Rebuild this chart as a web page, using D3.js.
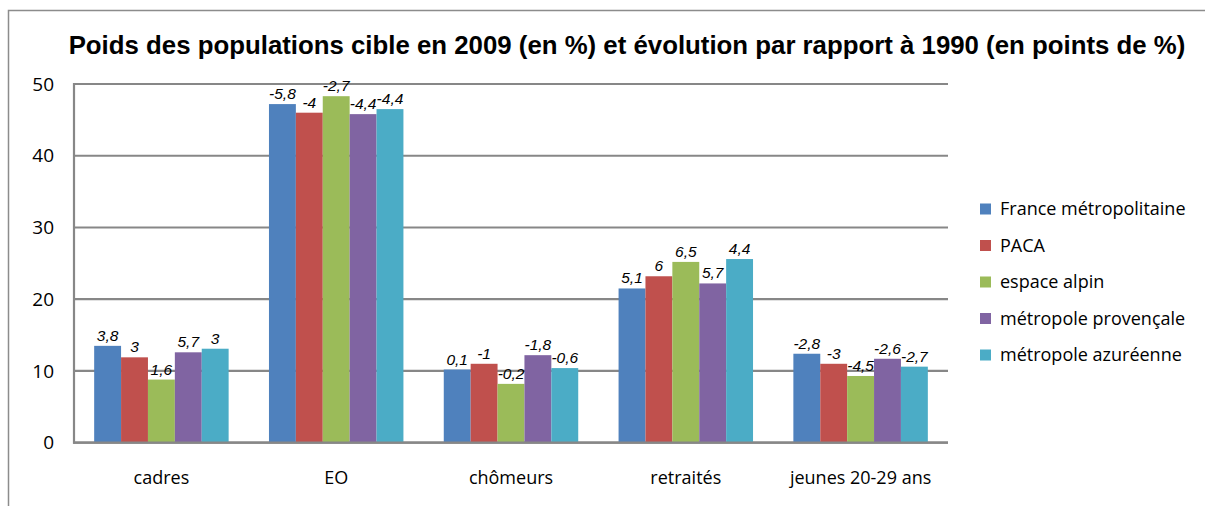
<!DOCTYPE html>
<html>
<head>
<meta charset="utf-8">
<script src="https://cdn.jsdelivr.net/npm/d3@7"></script>
<style>
  body { margin: 0; background: #fff; }
  svg { display: block; }
</style>
</head>
<body>
<div id="chart"></div>
<script>
// --- data ---
const categories = ['cadres', 'EO', 'chômeurs', 'retraités', 'jeunes 20-29 ans'];
const seriesNames = ['France métropolitaine', 'PACA', 'espace alpin', 'métropole provençale', 'métropole azuréenne'];
const seriesColors = ['#4F81BD', '#C0504D', '#9BBB59', '#8064A2', '#4BACC6'];

// share in 2009 (%), one array per series, in category order
const franceValues   = [13.5, 47.2, 10.2, 21.5, 12.4];
const pacaValues     = [11.9, 46.0, 11.0, 23.2, 11.0];
const alpinValues    = [8.8, 48.3, 8.2, 25.2, 9.3];
const provValues     = [12.6, 45.8, 12.2, 22.2, 11.7];
const azurValues     = [13.1, 46.5, 10.4, 25.6, 10.6];

// evolution vs 1990 (points), shown as labels
const franceEvol = ['3,8', '-5,8', '0,1', '5,1', '-2,8'];
const pacaEvol   = ['3', '-4', '-1', '6', '-3'];
const alpinEvol  = ['1,6', '-2,7', '-0,2', '6,5', '-4,5'];
const provEvol   = ['5,7', '-4,4', '-1,8', '5,7', '-2,6'];
const azurEvol   = ['3', '-4,4', '-0,6', '4,4', '-2,7'];

const yTicks = [0, 10, 20, 30, 40, 50];

const values = [franceValues, pacaValues, alpinValues, provValues, azurValues];
const evols = [franceEvol, pacaEvol, alpinEvol, provEvol, azurEvol];

const W = 1205, H = 506;
const plot = { left: 74, right: 948, top: 84, bottom: 442.7 };

const svg = d3.select('#chart').append('svg')
  .attr('width', W).attr('height', H);

// outer frame (only top and left edges are visible in the picture)
svg.append('path')
  .attr('d', `M8.5,${H} L8.5,10.5 L${W},10.5`)
  .attr('fill', 'none')
  .attr('stroke', '#8c8c8c')
  .attr('stroke-width', 1.5);

// title
svg.append('text')
  .attr('x', 627).attr('y', 54)
  .attr('text-anchor', 'middle')
  .attr('font-family', 'Liberation Sans, Arial, sans-serif')
  .attr('font-weight', 'bold')
  .attr('font-size', 25.8)
  .attr('fill', '#000')
  .text('Poids des populations cible en 2009 (en %) et évolution par rapport à 1990 (en points de %)');

const y = d3.scaleLinear().domain([0, 50]).range([plot.bottom, plot.top]);

const x0 = d3.scaleBand()
  .domain(categories)
  .range([plot.left, plot.right])
  .paddingInner(0)
  .paddingOuter(0);

// group occupies 5 bars out of 6.5 bar widths (gap width 150%)
const barW = x0.bandwidth() / 6.5;
const x1 = d3.scaleBand()
  .domain(seriesNames)
  .range([0, barW * 5]);

// gridlines
svg.append('g')
  .selectAll('line')
  .data(yTicks)
  .join('line')
  .attr('x1', plot.left).attr('x2', plot.right)
  .attr('y1', d => y(d)).attr('y2', d => y(d))
  .attr('stroke', '#878787')
  .attr('stroke-width', 2.2);

// y axis line
svg.append('line')
  .attr('x1', plot.left).attr('x2', plot.left)
  .attr('y1', y(50) - 1).attr('y2', y(0) + 1)
  .attr('stroke', '#878787')
  .attr('stroke-width', 2.2);

// y tick labels
svg.append('g')
  .selectAll('text')
  .data(yTicks)
  .join('text')
  .attr('x', 54)
  .attr('y', d => y(d))
  .attr('dy', '0.35em')
  .attr('text-anchor', 'end')
  .attr('font-family', 'Open Sans, Noto Sans, sans-serif')
  .attr('font-size', 19)
  .attr('fill', '#000')
  .text(d => d);

// bars
const groups = svg.append('g')
  .selectAll('g')
  .data(categories)
  .join('g')
  .attr('transform', c => `translate(${x0(c) + barW * 0.75},0)`);

groups.each(function(c, ci) {
  const g = d3.select(this);
  seriesNames.forEach((s, si) => {
    const v = values[si][ci];
    g.append('rect')
      .attr('x', x1(s))
      .attr('y', y(v))
      .attr('width', x1.bandwidth())
      .attr('height', y(0) - y(v))
      .attr('fill', seriesColors[si]);
  });
  seriesNames.forEach((s, si) => {
    const v = values[si][ci];
    g.append('text')
      .attr('x', x1(s) + x1.bandwidth() / 2)
      .attr('y', y(v) - 5)
      .attr('text-anchor', 'middle')
      .attr('font-family', 'Liberation Sans, Arial, sans-serif')
      .attr('font-style', 'italic')
      .attr('font-size', 15.5)
      .attr('fill', '#000')
      .text(evols[si][ci]);
  });
});

// baseline on top of bars
svg.append('line')
  .attr('x1', plot.left - 1).attr('x2', plot.right)
  .attr('y1', y(0)).attr('y2', y(0))
  .attr('stroke', '#878787')
  .attr('stroke-width', 2.2);

// category labels
svg.append('g')
  .selectAll('text')
  .data(categories)
  .join('text')
  .attr('x', c => x0(c) + x0.bandwidth() / 2)
  .attr('y', 484)
  .attr('text-anchor', 'middle')
  .attr('font-family', 'Open Sans, Noto Sans, sans-serif')
  .attr('font-size', 18)
  .attr('fill', '#000')
  .text(c => c);

// legend
const legend = svg.append('g')
  .selectAll('g')
  .data(seriesNames)
  .join('g')
  .attr('transform', (s, i) => `translate(980,${209 + i * 36.5})`);

legend.append('rect')
  .attr('x', 0).attr('y', -5.5)
  .attr('width', 11).attr('height', 11)
  .attr('fill', (s, i) => seriesColors[i]);

legend.append('text')
  .attr('x', 20).attr('y', 0)
  .attr('dy', '0.35em')
  .attr('font-family', 'Open Sans, Noto Sans, sans-serif')
  .attr('font-size', 18)
  .attr('fill', '#000')
  .text(s => s);
</script>
</body>
</html>
